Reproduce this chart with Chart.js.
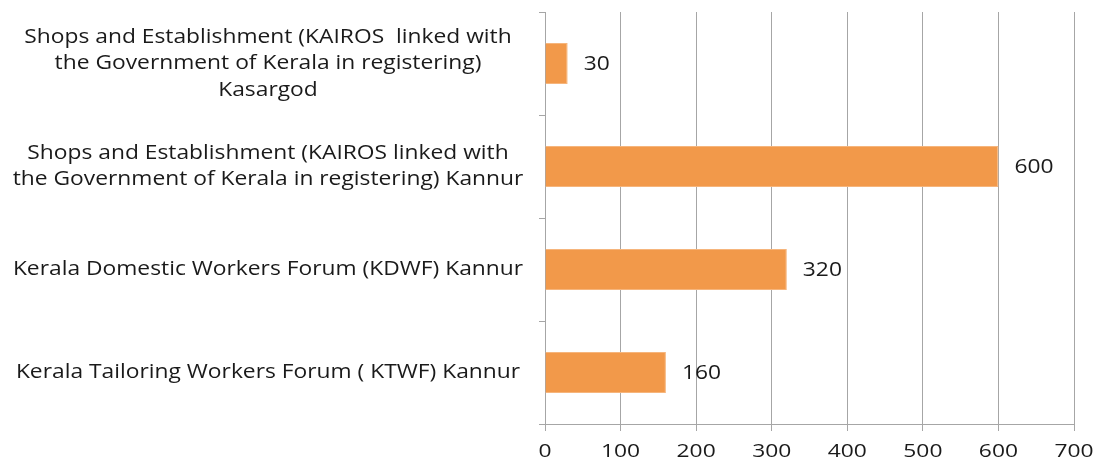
<!DOCTYPE html>
<html>
<head>
<meta charset="utf-8">
<script src="https://cdn.jsdelivr.net/npm/chart.js@4/dist/chart.umd.min.js"></script>
<style>
  html, body { margin: 0; padding: 0; background: #fff; }
  #wrap { width: 1094px; height: 463px; }
</style>
</head>
<body>
<div id="wrap"><canvas id="chart" width="1094" height="463"></canvas></div>
<script>
  // --- data ---
  const categories = [
    ["Shops and Establishment (KAIROS  linked with", "the Government of Kerala in registering)", "Kasargod"],
    ["Shops and Establishment (KAIROS linked with", "the Government of Kerala in registering) Kannur"],
    ["Kerala Domestic Workers Forum (KDWF) Kannur"],
    ["Kerala Tailoring Workers Forum ( KTWF) Kannur"],
  ];
  const values = [30, 600, 320, 160];
  const xTickMin = 0;
  const xTickMax = 700;
  const xTickStep = 100;

  const FONT = "'Open Sans', sans-serif";
  const GRID = "#a6a6a6";
  const TEXT = "#1a1a1a";
  const STRETCH = 1.14; // reference text is a bit wide

  // draw text stretched horizontally around its anchor
  function wideText(ctx, txt, x, y, align, sx) {
    ctx.save();
    ctx.translate(x, y);
    ctx.scale(sx, 1);
    ctx.textAlign = align;
    ctx.fillText(txt, 0, 0);
    ctx.restore();
  }

  // category labels, value labels and x tick labels
  const textLayer = {
    id: "textLayer",
    afterDatasetsDraw(chart) {
      const ctx = chart.ctx;
      const yScale = chart.scales.y;
      const xScale = chart.scales.x;
      const meta = chart.getDatasetMeta(0);
      ctx.save();
      ctx.fillStyle = TEXT;
      ctx.textBaseline = "middle";

      // y category labels, centred lines
      ctx.font = "20px " + FONT;
      const lh = 26.5;
      categories.forEach((lines, i) => {
        const cy = yScale.getPixelForValue(i);
        const y0 = cy - ((lines.length - 1) * lh) / 2;
        lines.forEach((ln, k) => {
          wideText(ctx, ln, 268, y0 + k * lh, "center", STRETCH);
        });
      });

      // values at bar ends
      ctx.font = "20px " + FONT;
      meta.data.forEach((bar, i) => {
        wideText(ctx, String(values[i]), bar.x + 16, bar.y + 1, "left", STRETCH);
      });

      // x ticks
      ctx.font = "19px " + FONT;
      for (let v = xTickMin; v <= xTickMax; v += xTickStep) {
        wideText(ctx, String(v), xScale.getPixelForValue(v), 452, "center", 1.2);
      }
      ctx.restore();
    },
  };

  new Chart(document.getElementById("chart"), {
    type: "bar",
    data: {
      labels: categories,
      datasets: [
        {
          data: values,
          backgroundColor: "#f2994a",
          borderColor: "#f6b57c",
          borderWidth: 1,
          categoryPercentage: 1,
          barPercentage: 0.4,
        },
      ],
    },
    options: {
      indexAxis: "y",
      responsive: false,
      animation: false,
      layout: { padding: { top: 12, right: 20, left: 0, bottom: 0 } },
      plugins: { legend: { display: false }, tooltip: { enabled: false } },
      scales: {
        x: {
          min: xTickMin,
          max: xTickMax,
          ticks: { stepSize: xTickStep, display: false },
          grid: { color: GRID, tickLength: 7, lineWidth: 1 },
          border: { color: GRID },
          afterFit: (s) => {
            s.height = 39;
            s.paddingLeft = 0;
            s.paddingRight = 0;
          },
        },
        y: {
          ticks: { display: false, autoSkip: false },
          grid: { drawOnChartArea: false, color: GRID, tickLength: 6 },
          border: { color: GRID },
          afterFit: (s) => {
            s.width = 545;
            s.paddingTop = 0;
            s.paddingBottom = 0;
          },
        },
      },
    },
    plugins: [textLayer],
  });
</script>
</body>
</html>
